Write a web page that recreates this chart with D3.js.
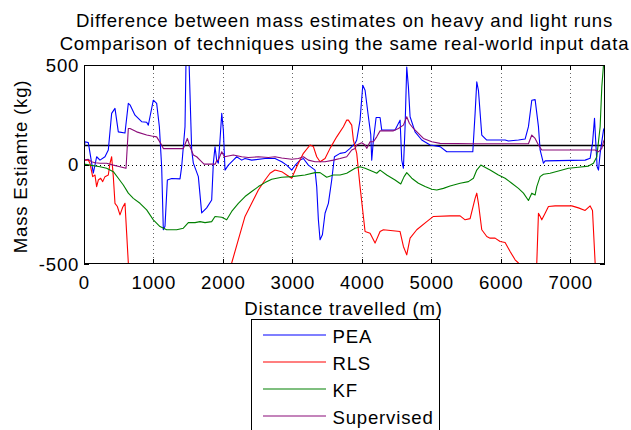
<!DOCTYPE html>
<html>
<head>
<meta charset="utf-8">
<script src="https://cdn.jsdelivr.net/npm/d3@7/dist/d3.min.js"></script>
<style>
  html, body { margin: 0; padding: 0; background: #fff; }
  svg { display: block; font-family: "Liberation Sans", Arial, Helvetica, sans-serif; }
  svg text { letter-spacing: 0.8px; fill: #000; }
</style>
</head>
<body>
<svg id="chart" width="631" height="430"></svg>
<script>
// Mass difference (kg) along the route (m) for each estimation technique
const pea = [[0,65],[14,114],[62,110],[134,-43],[182,39],[230,22],[302,39],[350,73],[398,257],[446,282],[494,164],[590,158],[638,307],[662,300],[734,248],[830,215],[902,212],[926,198],[950,240],[998,323],[1046,307],[1085,190],[1118,-11],[1142,-328],[1166,-310],[1200,-78],[1262,-70],[1382,-72],[1406,-11],[1454,190],[1472,600],[1505,600],[1550,73],[1574,7],[1646,-61],[1694,-243],[1766,-218],[1838,-178],[1862,7],[1886,89],[1910,22],[1934,7],[1958,123],[1983,257],[2006,173],[2030,-28],[2078,-3],[2150,22],[2198,39],[2270,22],[2318,30],[2414,22],[2606,30],[2750,30],[2846,14],[2918,-3],[2990,-28],[3038,-5],[3110,22],[3158,30],[3230,-3],[3326,-28],[3350,-111],[3374,-278],[3398,-378],[3432,-353],[3470,-245],[3518,-195],[3566,-78],[3605,39],[3686,56],[3758,60],[3830,81],[3902,106],[3926,123],[3974,223],[4013,398],[4046,373],[4094,240],[4128,150],[4142,22],[4166,123],[4205,236],[4262,236],[4286,173],[4478,173],[4550,223],[4574,22],[4598,-19],[4622,190],[4646,490],[4670,390],[4694,240],[4766,164],[4862,123],[4982,98],[5126,90],[5222,64],[5597,64],[5630,257],[5654,415],[5678,373],[5726,148],[5798,123],[6062,123],[6110,118],[6254,123],[6350,128],[6398,190],[6446,323],[6494,326],[6542,190],[6566,73],[6614,6],[6638,18],[7214,22],[7286,31],[7320,106],[7349,232],[7368,106],[7387,-11],[7406,-28],[7430,56],[7478,173],[7500,190]];

const rls = [[0,22],[62,22],[86,6],[125,-61],[158,-53],[182,-111],[206,-78],[240,-69],[269,-86],[302,-61],[350,-53],[374,6],[398,39],[422,-61],[446,-195],[480,-211],[518,-253],[557,-215],[590,-195],[614,-345],[638,-495],[660,-700],[2000,-700],[2126,-495],[2222,-378],[2318,-261],[2414,-195],[2510,-128],[2606,-78],[2678,-44],[2750,-28],[2846,-36],[2918,-53],[2990,-69],[3062,-11],[3158,56],[3254,98],[3302,90],[3350,39],[3398,14],[3470,30],[3542,81],[3638,139],[3734,190],[3782,223],[3806,223],[3854,198],[3878,123],[3926,56],[3974,-111],[4022,-261],[4046,-337],[4118,-345],[4190,-395],[4262,-337],[4310,-328],[4550,-337],[4598,-412],[4646,-454],[4694,-370],[4790,-328],[4934,-287],[5030,-261],[5270,-258],[5414,-258],[5486,-278],[5558,-272],[5630,-170],[5654,-144],[5678,-195],[5726,-328],[5798,-362],[5846,-370],[5918,-370],[5990,-387],[6062,-392],[6134,-437],[6206,-479],[6254,-495],[6300,-700],[6480,-700],[6518,-495],[6542,-245],[6566,-260],[6590,-278],[6638,-245],[6686,-211],[6782,-208],[7022,-208],[7118,-218],[7214,-231],[7286,-208],[7320,-231],[7358,-495],[7380,-700],[7500,-700]];

const kf = [[0,2],[86,-3],[230,-11],[326,-19],[422,-36],[494,-69],[566,-103],[638,-144],[710,-170],[806,-195],[902,-228],[998,-278],[1094,-312],[1190,-328],[1334,-328],[1430,-320],[1502,-292],[1598,-292],[1670,-287],[1742,-292],[1838,-287],[1886,-261],[1983,-265],[2054,-278],[2126,-236],[2222,-195],[2318,-161],[2414,-136],[2510,-111],[2606,-91],[2702,-74],[2846,-64],[2990,-61],[3182,-53],[3326,-41],[3398,-41],[3494,-64],[3590,-53],[3686,-53],[3782,-44],[3902,-19],[3974,-11],[4046,-19],[4166,-36],[4214,-44],[4262,-28],[4358,-53],[4478,-78],[4560,-98],[4608,-61],[4646,-41],[4718,-69],[4814,-94],[4910,-111],[5006,-124],[5078,-128],[5174,-120],[5270,-108],[5414,-94],[5534,-86],[5606,-69],[5654,-28],[5712,-3],[5798,-19],[5846,-28],[5966,-53],[6062,-69],[6158,-94],[6254,-120],[6326,-144],[6398,-181],[6446,-144],[6494,-153],[6518,-111],[6566,-61],[6614,-49],[6710,-44],[6830,-33],[6974,-19],[7118,-14],[7262,-8],[7334,6],[7382,39],[7430,190],[7454,390],[7478,499],[7500,560]];

const supervised = [[0,22],[62,26],[110,14],[158,9],[230,6],[326,6],[422,-3],[518,-11],[605,-19],[638,181],[662,181],[758,164],[902,148],[974,143],[1046,139],[1118,98],[1142,80],[1214,80],[1430,80],[1469,114],[1488,131],[1526,90],[1574,48],[1622,39],[1670,22],[1728,2],[1890,2],[1910,20],[1934,22],[1983,64],[2021,39],[2078,43],[2150,48],[2270,39],[2366,35],[2510,39],[2654,35],[2750,39],[2846,33],[2990,26],[3086,30],[3158,39],[3230,22],[3326,14],[3470,14],[3590,22],[3686,30],[3782,39],[3854,73],[3902,81],[3926,98],[3998,109],[4046,98],[4070,81],[4118,114],[4166,114],[4214,139],[4262,169],[4454,169],[4526,181],[4598,198],[4646,240],[4685,206],[4742,181],[4814,156],[4886,131],[5006,114],[5126,106],[5597,104],[6398,104],[6446,148],[6494,131],[6542,98],[6590,73],[7358,73],[7406,64],[7454,81],[7478,114],[7500,131]];

const referenceMass = 100;
const xTicks = [0, 1000, 2000, 3000, 4000, 5000, 6000, 7000];
const yTicks = [-500, 0, 500];
const seriesNames = ["PEA", "RLS", "KF", "Supervised"];
const seriesColors = ["#0000ff", "#ff0000", "#008000", "#8a0a78"];
const titleLines = ["Difference between mass estimates on heavy and light runs",
                    "Comparison of techniques using the same real-world input data"];

const svg = d3.select("#chart");
const plotLeft = 84, plotRight = 605, plotTop = 65, plotBottom = 264;
const fontSize = 18.6;

const x = d3.scaleLinear().domain([0, 7500]).range([plotLeft, plotRight]);
const y = d3.scaleLinear().domain([-500, 500]).range([plotBottom, plotTop]);

// dotted grid
const grid = svg.append("g").attr("stroke-width", 1).attr("stroke-dasharray", "1,3");
grid.selectAll("line.gx").data(xTicks.filter(d => d > 0)).join("line")
  .attr("x1", d => Math.round(x(d)) + 0.5).attr("x2", d => Math.round(x(d)) + 0.5)
  .attr("y1", plotTop).attr("y2", plotBottom).attr("stroke", "#666");
grid.selectAll("line.gy").data(yTicks.filter(d => d > -500 && d < 500)).join("line")
  .attr("x1", plotLeft).attr("x2", plotRight)
  .attr("y1", d => Math.round(y(d)) + 0.5).attr("y2", d => Math.round(y(d)) + 0.5)
  .attr("stroke", "#000");

// data lines, clipped to the axes
svg.append("defs").append("clipPath").attr("id", "plot-clip")
  .append("rect").attr("x", plotLeft).attr("y", plotTop)
  .attr("width", plotRight - plotLeft).attr("height", plotBottom - plotTop);

const line = d3.line().x(d => x(d[0])).y(d => y(d[1]));
const plot = svg.append("g").attr("clip-path", "url(#plot-clip)");

plot.append("line")
  .attr("x1", x(0)).attr("x2", x(7500))
  .attr("y1", Math.round(y(referenceMass)) + 0.5).attr("y2", Math.round(y(referenceMass)) + 0.5)
  .attr("stroke", "#000").attr("stroke-width", 1.3);

[pea, rls, kf, supervised].forEach((s, i) => {
  plot.append("path").datum(s).attr("d", line)
    .attr("fill", "none").attr("stroke", seriesColors[i])
    .attr("stroke-width", 1.1).attr("stroke-linejoin", "round");
});

// axes box, inward ticks on all four sides
svg.append("rect").attr("x", plotLeft + 0.5).attr("y", plotTop + 0.5)
  .attr("width", plotRight - plotLeft - 1).attr("height", plotBottom - plotTop - 1)
  .attr("fill", "none").attr("stroke", "#000");

const tickLen = 5;
const ticks = svg.append("g").attr("stroke", "#000");
xTicks.forEach(d => {
  const px = Math.round(x(d)) + 0.5;
  ticks.append("line").attr("x1", px).attr("x2", px).attr("y1", plotBottom).attr("y2", plotBottom - tickLen);
  ticks.append("line").attr("x1", px).attr("x2", px).attr("y1", plotTop).attr("y2", plotTop + tickLen);
});
yTicks.forEach(d => {
  const py = Math.round(y(d)) + 0.5;
  ticks.append("line").attr("x1", plotLeft).attr("x2", plotLeft + tickLen).attr("y1", py).attr("y2", py);
  ticks.append("line").attr("x1", plotRight).attr("x2", plotRight - tickLen).attr("y1", py).attr("y2", py);
});

svg.append("g").selectAll("text").data(xTicks).join("text")
  .attr("x", d => x(d) + 0.4).attr("y", plotBottom + 24.5)
  .attr("text-anchor", "middle").attr("font-size", fontSize)
  .text(d => d);
svg.append("g").selectAll("text").data(yTicks).join("text")
  .attr("x", plotLeft - 4.8).attr("y", d => y(d) + 6.8)
  .attr("text-anchor", "end").attr("font-size", fontSize)
  .text(d => d);

// axis titles
svg.append("text").attr("x", (plotLeft + plotRight) / 2 - 1).attr("y", 314.5)
  .attr("text-anchor", "middle").attr("font-size", fontSize)
  .text("Distance travelled (m)");
svg.append("text")
  .attr("transform", "translate(26.5, 166.5) rotate(-90)")
  .attr("text-anchor", "middle").attr("font-size", fontSize)
  .text("Mass Estiamte (kg)");

// two-line title
svg.append("g").selectAll("text").data(titleLines).join("text")
  .attr("x", (plotLeft + plotRight) / 2).attr("y", (d, i) => 27 + i * 22.5)
  .attr("text-anchor", "middle").attr("font-size", fontSize)
  .text(d => d);

// legend below the axes
const legend = svg.append("g");
legend.append("rect").attr("x", 251.5).attr("y", 319.5).attr("width", 188).attr("height", 120)
  .attr("fill", "#fff").attr("stroke", "#000");
seriesNames.forEach((name, i) => {
  const ly = 335 + i * 26.9;
  legend.append("line").attr("x1", 263).attr("x2", 326)
    .attr("y1", Math.round(ly)).attr("y2", Math.round(ly))
    .attr("stroke", seriesColors[i]).attr("stroke-width", 1.2);
  legend.append("text").attr("x", 332.5).attr("y", ly + 8.3)
    .attr("font-size", fontSize).text(name);
});
</script>
</body>
</html>
